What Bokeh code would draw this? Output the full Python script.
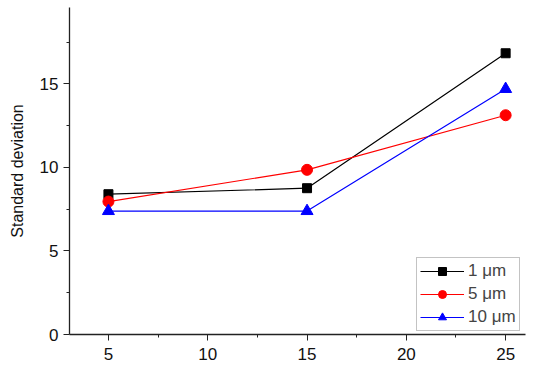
from bokeh.plotting import figure
from bokeh.models import Range1d, FixedTicker, Legend, LegendItem
from bokeh.embed import file_html
from bokeh.resources import INLINE

x_vals = [5, 15, 25]
sd_1um = [8.4, 8.76, 16.84]
sd_5um = [7.96, 9.86, 13.13]
sd_10um = [7.39, 7.39, 14.7]
series_names = ["1 \u03bcm", "5 \u03bcm", "10 \u03bcm"]
x_ticks = [5, 10, 15, 20, 25]
x_minor = [7.5, 12.5, 17.5, 22.5]
y_ticks = [0, 5, 10, 15]
y_minor = [2.5, 7.5, 12.5, 17.5]

FONT = "Liberation Sans"

p = figure(frame_width=456, frame_height=327, output_backend="svg",
           toolbar_location=None, x_range=Range1d(3.04, 26.0),
           y_range=Range1d(0, 19.58), min_border_left=69, min_border_top=7,
           min_border_right=8, min_border_bottom=30)
p.outline_line_color = None
p.grid.visible = False
p.background_fill_color = "white"
p.border_fill_color = "white"

for ax in (p.xaxis[0], p.yaxis[0]):
    ax.axis_line_color = "#222222"
    ax.axis_line_width = 1.3
    ax.major_tick_line_color = "#222222"
    ax.minor_tick_line_color = "#222222"
    ax.major_tick_out = 6
    ax.major_tick_in = 0
    ax.minor_tick_out = 3
    ax.minor_tick_in = 0
    ax.major_label_text_font = FONT
    ax.major_label_text_font_size = "17px"
    ax.major_label_text_color = "#111111"

p.xaxis.ticker = FixedTicker(ticks=x_ticks, minor_ticks=x_minor)
p.yaxis.ticker = FixedTicker(ticks=y_ticks, minor_ticks=y_minor)
p.xaxis.major_label_standoff = 7
p.yaxis.major_label_standoff = 5
p.yaxis.axis_label = "Standard deviation"
p.yaxis.axis_label_text_font = FONT
p.yaxis.axis_label_text_font_style = "normal"
p.yaxis.axis_label_text_font_size = "16px"
p.yaxis.axis_label_text_color = "#111111"
p.yaxis.axis_label_standoff = 11

l1 = p.line(x_vals, sd_1um, line_color="black", line_width=1.2)
m1 = p.scatter(x_vals, sd_1um, marker="square", size=9, color="black")
l2 = p.line(x_vals, sd_5um, line_color="red", line_width=1.2)
m2 = p.scatter(x_vals, sd_5um, marker="circle", size=11, color="red")
l3 = p.line(x_vals, sd_10um, line_color="blue", line_width=1.2)
m3 = p.scatter(x_vals, sd_10um, marker="triangle", size=12, color="blue")

legend = Legend(items=[
    LegendItem(label=series_names[0], renderers=[l1, m1]),
    LegendItem(label=series_names[1], renderers=[l2, m2]),
    LegendItem(label=series_names[2], renderers=[l3, m3]),
], location=(347, 3))
legend.label_text_font = FONT
legend.label_text_font_size = "17px"
legend.glyph_width = 44
legend.glyph_height = 20
legend.label_height = 20
legend.spacing = 3
legend.padding = 3
legend.margin = 0
legend.label_standoff = 4
legend.border_line_color = "#888888"
legend.border_line_width = 1
legend.background_fill_alpha = 1
p.add_layout(legend, "center")

open("out.html", "w").write(file_html(p, INLINE))
